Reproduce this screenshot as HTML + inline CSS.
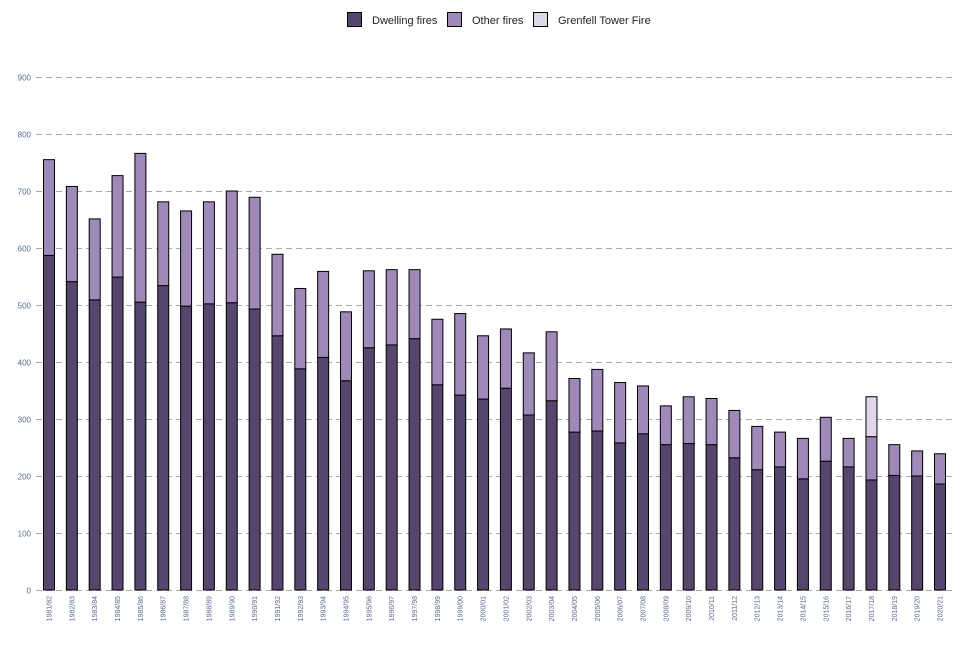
<!DOCTYPE html>
<html><head><meta charset="utf-8"><style>
body{margin:0;background:#fff;font-family:"Liberation Sans",sans-serif}
</style></head><body>
<svg id="chart" width="960" height="640" xmlns="http://www.w3.org/2000/svg">
<g id="legend" font-size="11" fill="#222">
<g><rect x="347.5" y="12.5" width="14" height="14" fill="#56456c" stroke="#000"/><text x="372" y="24">Dwelling fires</text></g>
<g><rect x="447.5" y="12.5" width="14" height="14" fill="#9e89b8" stroke="#000"/><text x="472" y="24">Other fires</text></g>
<g><rect x="533.5" y="12.5" width="14" height="14" fill="#e0d8e8" stroke="#000"/><text x="558" y="24">Grenfell Tower Fire</text></g>
</g>
<g id="grid"></g>
<g id="bars"></g>
<g id="xlabels"></g>
</svg>
<script>
const categories=["1981/82","1982/83","1983/84","1984/85","1985/86","1986/87","1987/88","1988/89","1989/90","1990/91","1991/92","1992/93","1993/94","1994/95","1995/96","1996/97","1997/98","1998/99","1999/00","2000/01","2001/02","2002/03","2003/04","2004/05","2005/06","2006/07","2007/08","2008/09","2009/10","2010/11","2011/12","2012/13","2013/14","2014/15","2015/16","2016/17","2017/18","2018/19","2019/20","2020/21"];
const dwelling=[587,541,509,549,505,534,498,502,504,493,446,388,408,367,425,430,441,360,342,335,354,307,332,277,279,258,274,255,257,255,232,211,216,195,226,216,193,201,200,186];
const other=[168,167,142,178,261,147,167,179,196,196,143,141,151,121,135,132,121,115,143,111,104,109,121,94,108,106,84,68,82,81,83,76,61,71,77,50,76,54,44,53];
const grenfell=[0,0,0,0,0,0,0,0,0,0,0,0,0,0,0,0,0,0,0,0,0,0,0,0,0,0,0,0,0,0,0,0,0,0,0,0,70,0,0,0];
const yTicks=[0,100,200,300,400,500,600,700,800,900];
const NS="http://www.w3.org/2000/svg";
const y0=590,yTop=77,yMax=900;
function yScale(v){return y0-(v/yMax)*(y0-yTop);}
function xScale(i){return 49+i*(940-49)/(categories.length-1);}
function mk(tag,attrs,parent){const e=document.createElementNS(NS,tag);for(const k in attrs)e.setAttribute(k,attrs[k]);parent.appendChild(e);return e;}
const grid=document.getElementById('grid');
yTicks.forEach(t=>{
 const y=Math.round(yScale(t))+0.5;
 const l=mk('line',{x1:36,x2:955,y1:y,y2:y,stroke:'#aaa','stroke-dasharray':'6,4','stroke-width':1},grid);
 
 
 const tx=mk('text',{x:31,y:y+3,'text-anchor':'end','font-size':8,fill:'#5a6a90'},grid);
 tx.textContent=t;
 
 
});
const bars=document.getElementById('bars'),xl=document.getElementById('xlabels');
const bw=11;
categories.forEach((c,i)=>{
 const x=xScale(i)-bw/2;
 const segs=[[dwelling[i],'#56456c','dwelling'],[other[i],'#9e89b8','other'],[grenfell[i],'#e0d8e8','grenfell']];
 let base=0;
 segs.forEach(s=>{
  if(s[0]<=0)return;
  const yt=yScale(base+s[0]),yb=yScale(base);
  const r=mk('rect',{x:x,y:yt,width:bw,height:yb-yt,fill:s[1],stroke:'#000','stroke-width':1},bars);
  
  
  base+=s[0];
 });
 const t=mk('text',{transform:`translate(${xScale(i)+2.5},596) rotate(-90)`,'text-anchor':'end','font-size':7,fill:'#5a6a90'},xl);
 t.textContent=c;
 
 
});
</script>
</body></html>
